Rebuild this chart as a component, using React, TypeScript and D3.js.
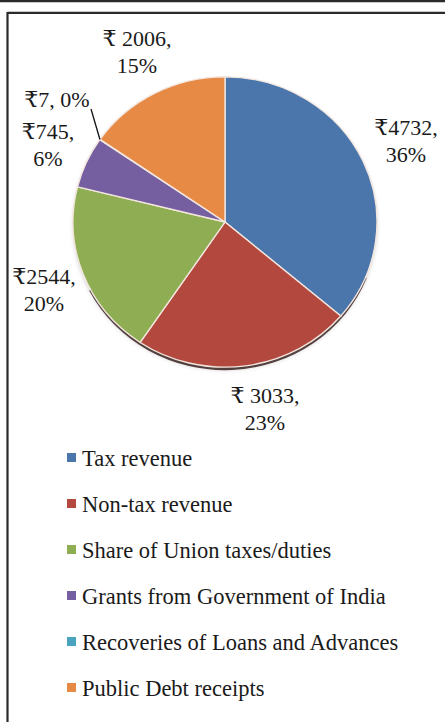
import React from "react";
import * as d3 from "d3";

const categories = [
  "Tax revenue",
  "Non-tax revenue",
  "Share of Union taxes/duties",
  "Grants from Government of India",
  "Recoveries of Loans and Advances",
  "Public Debt receipts",
];
const values = [4732, 3033, 2544, 745, 7, 2006];
const percents = [36, 23, 20, 6, 0, 15];
const valueLabels = ["₹4732,", "₹ 3033,", "₹2544,", "₹745,", "₹7, 0%", "₹ 2006,"];
const colors = ["#4A76AC", "#B3483F", "#8FAE53", "#755FA0", "#4AA3BF", "#E68A45"];

const W = 445;
const H = 722;
const cx = 225;
const cy = 222;
const R = 152;
const sy = 0.955;
const FONT = "'Liberation Serif', 'Times New Roman', 'DejaVu Serif', serif";

// label anchor positions (center x, first baseline y), per slice
const labelPos: [number, number][] = [
  [406, 135],
  [265, 403],
  [44, 284],
  [48, 139],
  [57, 107],
  [137, 46],
];

export default function App() {
  const pie = d3.pie<number>().sort(null).startAngle(0).endAngle(2 * Math.PI);
  const arcs = pie(values);
  const arc = d3.arc<d3.PieArcDatum<number>>().innerRadius(0).outerRadius(R);
  const shadowArc = d3.arc<any>().innerRadius(R - 4).outerRadius(R + 0.5);

  const legendY = d3.scalePoint<string>().domain(categories).range([458, 688]);

  // leader line for small slice
  const small = arcs[4];
  const midA = (small.startAngle + small.endAngle) / 2;
  const ex = cx + R * Math.sin(midA);
  const ey = cy - R * sy * Math.cos(midA);

  return (
    <svg
      width={W}
      height={H}
      style={{ position: "absolute", left: 0, top: 0, background: "#fff" }}
      fontFamily={FONT}
    >
      <defs>
        <filter id="blur" x="-20%" y="-20%" width="140%" height="140%">
          <feGaussianBlur stdDeviation="2" />
        </filter>
      </defs>
      <rect x={0} y={0} width={W} height={H} fill="#fff" />
      {/* frame */}
      <line x1={0} x2={W} y1={1.2} y2={1.2} stroke="#2a2a2a" strokeWidth={2.2} />
      <line x1={7.5} x2={W + 5} y1={12.8} y2={12.8} stroke="#2a2a2a" strokeWidth={2.2} />
      <line x1={7.5} x2={7.5} y1={12} y2={H + 5} stroke="#2a2a2a" strokeWidth={2.2} />

      {/* shadow */}
      <g transform={`translate(${cx},${cy + 3}) scale(1,${sy})`}>
        <circle r={R} fill="#888" opacity={0.35} filter="url(#blur)" />
      </g>
      <g transform={`translate(${cx},${cy + 2.5}) scale(1,${sy})`}>
        <path
          d={shadowArc({ startAngle: Math.PI * 0.62, endAngle: Math.PI * 1.35 }) || ""}
          fill="#3a2220"
          opacity={0.85}
        />
      </g>

      {/* pie */}
      <g transform={`translate(${cx},${cy}) scale(1,${sy})`}>
        {arcs.map((a, i) => (
          <path key={i} d={arc(a) || ""} fill={colors[i]} stroke="#f3e6de" strokeWidth={1.4} />
        ))}
      </g>

      {/* leader */}
      <line x1={91} y1={109} x2={ex} y2={ey} stroke="#111" strokeWidth={1.3} />

      {/* labels */}
      {arcs.map((a, i) => {
        const [lx, ly] = labelPos[i];
        return (
          <text key={i} x={lx} y={ly} textAnchor="middle" fontSize={22} fill="#1a1a1a">
            <tspan x={lx}>{valueLabels[i]}</tspan>
            {i !== 4 && (
              <tspan x={lx} dy={27}>
                {percents[i]}%
              </tspan>
            )}
          </text>
        );
      })}

      {/* legend */}
      {categories.map((c, i) => {
        const y = legendY(c) as number;
        return (
          <g key={c}>
            <rect x={67} y={y - 5} width={9} height={9} fill={colors[i]} />
            <text x={82} y={y + 7.5} fontSize={22.5} fill="#1a1a1a">
              {c}
            </text>
          </g>
        );
      })}
    </svg>
  );
}
